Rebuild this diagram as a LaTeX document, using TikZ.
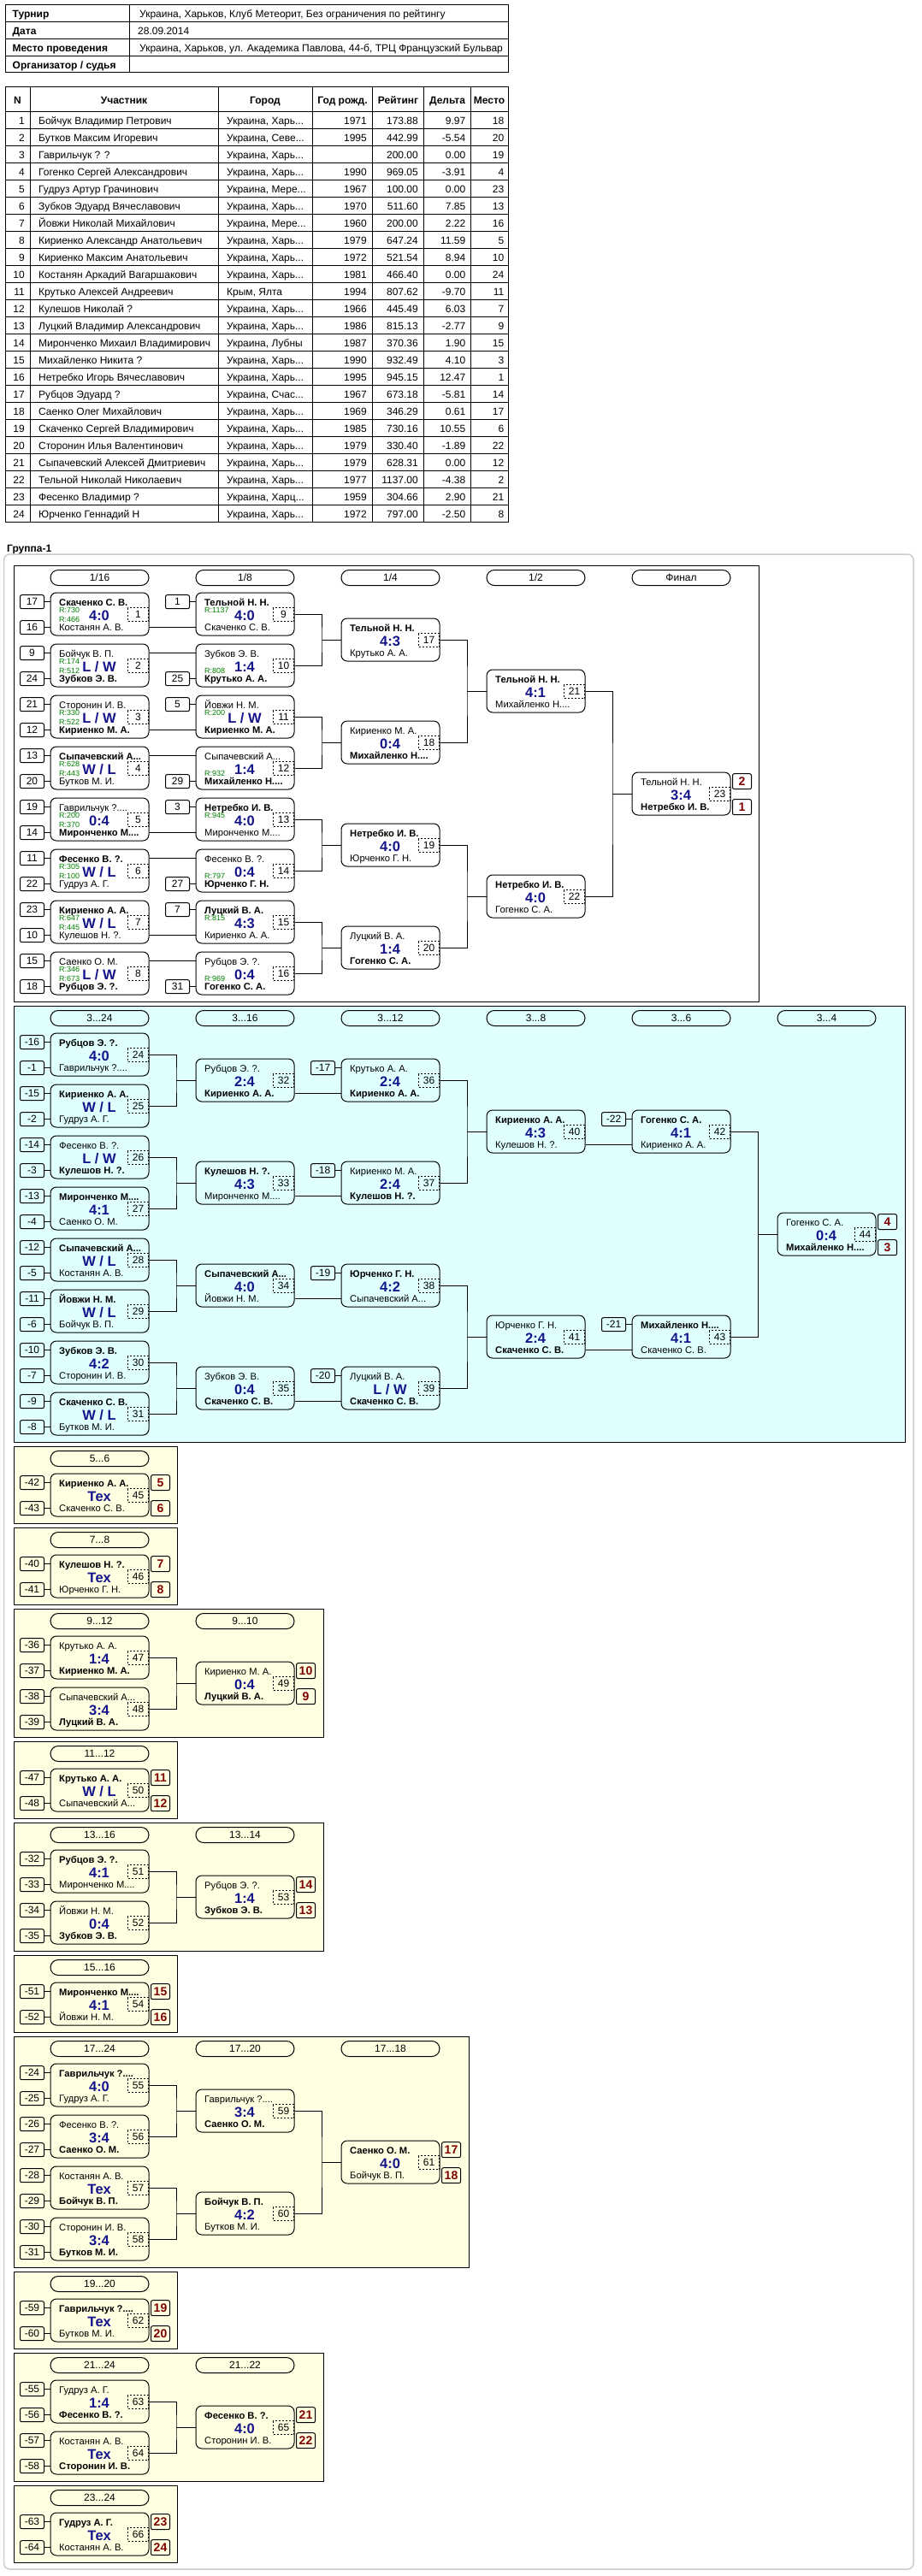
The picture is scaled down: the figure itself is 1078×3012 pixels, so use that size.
\documentclass[tikz,border=0pt]{standalone}
\usepackage{fontspec}
\setmainfont{Liberation Sans}
\definecolor{scoreblue}{RGB}{20,20,140}
\definecolor{ratgreen}{RGB}{0,128,0}
\definecolor{placered}{RGB}{128,0,0}
\definecolor{cyanbg}{RGB}{224,255,255}
\definecolor{yellowbg}{RGB}{255,255,225}
\definecolor{panelgray}{RGB}{205,205,205}
\newcommand\fzn{\fontsize{11.2}{12}\selectfont}
\newcommand\fzs{\fontsize{16.5}{17}\selectfont\bfseries}
\newcommand\fzr{\fontsize{9}{9}\selectfont}
\newcommand\fzk{\fontsize{12}{12}\selectfont}
\newcommand\fzp{\fontsize{14}{14}\selectfont\bfseries}
\newcommand\fzt{\fontsize{12}{12}\selectfont}
\tikzset{
  conn/.style={line width=1pt},
  mbox/.style={draw, line width=1pt, rounded corners=7pt, minimum width=115pt, minimum height=50pt, inner sep=0pt},
  pill/.style={draw, line width=1pt, rounded corners=9pt, minimum width=115pt, minimum height=18pt, inner sep=0pt, font=\fzt},
  seedbox/.style={draw, line width=1pt, rounded corners=2pt, minimum width=28pt, minimum height=16pt, inner sep=0pt, font=\fzk},
  numbox/.style={draw, dashed, dash pattern=on 2pt off 2pt, line width=0.9pt, minimum width=24pt, minimum height=16pt, inner sep=0pt, font=\fzk},
  placebox/.style={draw, line width=1pt, rounded corners=2pt, minimum width=22pt, minimum height=18pt, inner sep=0pt, font=\fzp, text=placered},
  nm/.style={anchor=base west, inner sep=0pt, font=\fzn},
  nmb/.style={anchor=base west, inner sep=0pt, font=\fzn\bfseries},
  sc/.style={anchor=base, inner sep=0pt, font=\fzs, text=scoreblue},
  rt/.style={anchor=base west, inner sep=0pt, font=\fzr, text=ratgreen},
  tl/.style={anchor=base west, inner sep=0pt, font=\fzt},
  tr/.style={anchor=base east, inner sep=0pt, font=\fzt},
  th/.style={anchor=base, inner sep=0pt, font=\fzt\bfseries},
  tb/.style={anchor=base west, inner sep=0pt, font=\fzt\bfseries},
  sect/.style={draw, line width=1pt},
}
\newcommand\mymatch[8]{%
  \node[mbox] (m#1) at ({#2+57.5},{#3+25}) {};
  \coordinate (m#1T) at (#2,{#3+10.7});
  \coordinate (m#1B) at (#2,{#3+40.7});
  \node[#4] (m#1t) at ({#2+10},{#3+15}) {#5};
  \node[sc] (m#1s) at ({#2+57},{#3+32.6}) {#6};
  \node[#7] (m#1b) at ({#2+10},{#3+44.5}) {#8};
  \node[numbox] (m#1n) at ({#2+102.5},{#3+25.7}) {#1};
}
\newcommand\myseed[3]{%
  \node[seedbox, anchor=east] (s#1#2) at ([xshift=-7pt]m#1#2) {#3};
  \draw[conn] (s#1#2.east) -- (m#1#2);
}
\newcommand\myplace[3]{%
  \node[placebox, anchor=west] (p#1#2) at ([xshift=117pt]m#1#2) {#3};
}
\newcommand\rtop[2]{\node[rt] (r#1T) at ([xshift=10pt,yshift=-12.3pt]m#1T) {#2};}
\newcommand\rbot[2]{\node[rt] (r#1B) at ([xshift=10pt,yshift=6.5pt]m#1B) {#2};}
\newcommand\myjoin[3]{%
  \draw[conn] (m#1.east) -| ([xshift=-22.5pt]m#3.west) |- (m#2.east);
  \draw[conn] ([xshift=-22.5pt]m#3.west) -- (m#3.west);
}
\newcommand\myfeed[3]{\draw[conn] (m#1.east |- m#2#3) -- (m#2#3);}
\newcommand\mypill[4]{\node[pill] (#1) at ({#2+57.5},{#3+14.5}) {#4};}
\newcommand\ptrow[7]{%
  \node[tr] (r#1n) at (29,{130+20*#1-5}) {#1};
  \node[tl] (r#1p) at (45,{130+20*#1-5}) {#2};
  \node[tl] (r#1c) at (265,{130+20*#1-5}) {#3};
  \node[tr] (r#1y) at (429,{130+20*#1-5}) {#4};
  \node[tr] (r#1r) at (489,{130+20*#1-5}) {#5};
  \node[tr] (r#1d) at (544.5,{130+20*#1-5}) {#6};
  \node[tr] (r#1m) at (589.5,{130+20*#1-5}) {#7};
}
\begin{document}
\begin{tikzpicture}[x=1pt,y=-1pt]
\useasboundingbox[fill=white] (0,0) rectangle (1078,3012);
% ---------- info table ----------
\draw[line width=1pt] (6,5) rectangle (594,84.5);
\foreach \yy in {25,45,65} \draw[line width=1pt] (6,\yy) -- (594,\yy);
\draw[line width=1pt] (151,5) -- (151,84.5);
\node[tb] (i1) at (14.5,20.7) {Турнир};
\node[tb] (i2) at (14.5,40.7) {Дата};
\node[tb] (i3) at (14.5,60.7) {Место проведения};
\node[tb] (i4) at (14.5,80.5) {Организатор / судья};
\node[tl] (v1) at (163,20.7) {Украина, Харьков, Клуб Метеорит, Без ограничения по рейтингу};
\node[tl] (v2) at (161,40.7) {28.09.2014};
\node[tl] (v3) at (163,60.7) {Украина, Харьков, ул. Академика Павлова, 44-б, ТРЦ Французский Бульвар};
% ---------- participants table ----------
\draw[line width=1pt] (6,101) rectangle (594,610);
\foreach \i in {0,...,23} \draw[line width=1pt] (6,{130+20*\i}) -- (594,{130+20*\i});
\foreach \xx in {35,255,365.5,435.5,495.5,550} \draw[line width=1pt] (\xx,101) -- (\xx,610);
\node[th] (h1) at (20.5,121) {N};
\node[th] (h2) at (145,121) {Участник};
\node[th] (h3) at (310,121) {Город};
\node[th] (h4) at (400.5,121) {Год рожд.};
\node[th] (h5) at (465.5,121) {Рейтинг};
\node[th] (h6) at (523,121) {Дельта};
\node[th] (h7) at (572,121) {Место};
\ptrow{1}{Бойчук Владимир Петрович}{Украина, Харь...}{1971}{173.88}{9.97}{18}
\ptrow{2}{Бутков Максим Игоревич}{Украина, Севе...}{1995}{442.99}{-5.54}{20}
\ptrow{3}{Гаврильчук ? ?}{Украина, Харь...}{}{200.00}{0.00}{19}
\ptrow{4}{Гогенко Сергей Александрович}{Украина, Харь...}{1990}{969.05}{-3.91}{4}
\ptrow{5}{Гудруз Артур Грачинович}{Украина, Мере...}{1967}{100.00}{0.00}{23}
\ptrow{6}{Зубков Эдуард Вячеславович}{Украина, Харь...}{1970}{511.60}{7.85}{13}
\ptrow{7}{Йовжи Николай Михайлович}{Украина, Мере...}{1960}{200.00}{2.22}{16}
\ptrow{8}{Кириенко Александр Анатольевич}{Украина, Харь...}{1979}{647.24}{11.59}{5}
\ptrow{9}{Кириенко Максим Анатольевич}{Украина, Харь...}{1972}{521.54}{8.94}{10}
\ptrow{10}{Костанян Аркадий Вагаршакович}{Украина, Харь...}{1981}{466.40}{0.00}{24}
\ptrow{11}{Крутько Алексей Андреевич}{Крым, Ялта}{1994}{807.62}{-9.70}{11}
\ptrow{12}{Кулешов Николай ?}{Украина, Харь...}{1966}{445.49}{6.03}{7}
\ptrow{13}{Луцкий Владимир Александрович}{Украина, Харь...}{1986}{815.13}{-2.77}{9}
\ptrow{14}{Миронченко Михаил Владимирович}{Украина, Лубны}{1987}{370.36}{1.90}{15}
\ptrow{15}{Михайленко Никита ?}{Украина, Харь...}{1990}{932.49}{4.10}{3}
\ptrow{16}{Нетребко Игорь Вячеславович}{Украина, Харь...}{1995}{945.15}{12.47}{1}
\ptrow{17}{Рубцов Эдуард ?}{Украина, Счас...}{1967}{673.18}{-5.81}{14}
\ptrow{18}{Саенко Олег Михайлович}{Украина, Харь...}{1969}{346.29}{0.61}{17}
\ptrow{19}{Скаченко Сергей Владимирович}{Украина, Харь...}{1985}{730.16}{10.55}{6}
\ptrow{20}{Сторонин Илья Валентинович}{Украина, Харь...}{1979}{330.40}{-1.89}{22}
\ptrow{21}{Сыпачевский Алексей Дмитриевич}{Украина, Харь...}{1979}{628.31}{0.00}{12}
\ptrow{22}{Тельной Николай Николаевич}{Украина, Харь...}{1977}{1137.00}{-4.38}{2}
\ptrow{23}{Фесенко Владимир ?}{Украина, Харц...}{1959}{304.66}{2.90}{21}
\ptrow{24}{Юрченко Геннадий Н}{Украина, Харь...}{1972}{797.00}{-2.50}{8}
% ---------- group panel ----------
\node[tb] (grp) at (8,645) {Группа-1};
\draw[panelgray, line width=1.5pt, rounded corners=7pt] (4.5,648) rectangle (1068,3004);
% section backgrounds
\draw[sect, fill=white] (16,661) rectangle (887,1171);
\draw[sect, fill=cyanbg] (16,1176) rectangle (1058,1686);
\draw[sect, fill=yellowbg] (16,1691) rectangle (207,1781);
\draw[sect, fill=yellowbg] (16,1786) rectangle (207,1876);
\draw[sect, fill=yellowbg] (16,1881) rectangle (378,2031);
\draw[sect, fill=yellowbg] (16,2036) rectangle (207,2126);
\draw[sect, fill=yellowbg] (16,2131) rectangle (378,2281);
\draw[sect, fill=yellowbg] (16,2286) rectangle (207,2376);
\draw[sect, fill=yellowbg] (16,2381) rectangle (548,2651);
\draw[sect, fill=yellowbg] (16,2656) rectangle (207,2746);
\draw[sect, fill=yellowbg] (16,2751) rectangle (378,2901);
\draw[sect, fill=yellowbg] (16,2906) rectangle (207,2996);
% ---------- main bracket ----------
\mypill{pa1}{59}{661}{1/16}
\mypill{pa2}{229}{661}{1/8}
\mypill{pa3}{399}{661}{1/4}
\mypill{pa4}{569}{661}{1/2}
\mypill{pa5}{739}{661}{Финал}
\mymatch{1}{59}{693}{nmb}{Скаченко С. В.}{4:0}{nm}{Костанян А. В.}
\mymatch{2}{59}{753}{nm}{Бойчук В. П.}{L / W}{nmb}{Зубков Э. В.}
\mymatch{3}{59}{813}{nm}{Сторонин И. В.}{L / W}{nmb}{Кириенко М. А.}
\mymatch{4}{59}{873}{nmb}{Сыпачевский А...}{W / L}{nm}{Бутков М. И.}
\mymatch{5}{59}{933}{nm}{Гаврильчук ?....}{0:4}{nmb}{Миронченко М....}
\mymatch{6}{59}{993}{nmb}{Фесенко В. ?.}{W / L}{nm}{Гудруз А. Г.}
\mymatch{7}{59}{1053}{nmb}{Кириенко А. А.}{W / L}{nm}{Кулешов Н. ?.}
\mymatch{8}{59}{1113}{nm}{Саенко О. М.}{L / W}{nmb}{Рубцов Э. ?.}
\rtop{1}{R:730}\rbot{1}{R:466}
\rtop{2}{R:174}\rbot{2}{R:512}
\rtop{3}{R:330}\rbot{3}{R:522}
\rtop{4}{R:628}\rbot{4}{R:443}
\rtop{5}{R:200}\rbot{5}{R:370}
\rtop{6}{R:305}\rbot{6}{R:100}
\rtop{7}{R:647}\rbot{7}{R:445}
\rtop{8}{R:346}\rbot{8}{R:673}
\myseed{1}{T}{17}\myseed{1}{B}{16}
\myseed{2}{T}{9}\myseed{2}{B}{24}
\myseed{3}{T}{21}\myseed{3}{B}{12}
\myseed{4}{T}{13}\myseed{4}{B}{20}
\myseed{5}{T}{19}\myseed{5}{B}{14}
\myseed{6}{T}{11}\myseed{6}{B}{22}
\myseed{7}{T}{23}\myseed{7}{B}{10}
\myseed{8}{T}{15}\myseed{8}{B}{18}
\mymatch{9}{229}{693}{nmb}{Тельной Н. Н.}{4:0}{nm}{Скаченко С. В.}
\mymatch{10}{229}{753}{nm}{Зубков Э. В.}{1:4}{nmb}{Крутько А. А.}
\mymatch{11}{229}{813}{nm}{Йовжи Н. М.}{L / W}{nmb}{Кириенко М. А.}
\mymatch{12}{229}{873}{nm}{Сыпачевский А...}{1:4}{nmb}{Михайленко Н....}
\mymatch{13}{229}{933}{nmb}{Нетребко И. В.}{4:0}{nm}{Миронченко М....}
\mymatch{14}{229}{993}{nm}{Фесенко В. ?.}{0:4}{nmb}{Юрченко Г. Н.}
\mymatch{15}{229}{1053}{nmb}{Луцкий В. А.}{4:3}{nm}{Кириенко А. А.}
\mymatch{16}{229}{1113}{nm}{Рубцов Э. ?.}{0:4}{nmb}{Гогенко С. А.}
\rtop{9}{R:1137}\rbot{10}{R:808}\rtop{11}{R:200}\rbot{12}{R:932}
\rtop{13}{R:945}\rbot{14}{R:797}\rtop{15}{R:815}\rbot{16}{R:969}
\myseed{9}{T}{1}\myseed{10}{B}{25}\myseed{11}{T}{5}\myseed{12}{B}{29}
\myseed{13}{T}{3}\myseed{14}{B}{27}\myseed{15}{T}{7}\myseed{16}{B}{31}
\myfeed{1}{9}{B}\myfeed{2}{10}{T}\myfeed{3}{11}{B}\myfeed{4}{12}{T}
\myfeed{5}{13}{B}\myfeed{6}{14}{T}\myfeed{7}{15}{B}\myfeed{8}{16}{T}
\mymatch{17}{399}{723}{nmb}{Тельной Н. Н.}{4:3}{nm}{Крутько А. А.}
\mymatch{18}{399}{843}{nm}{Кириенко М. А.}{0:4}{nmb}{Михайленко Н....}
\mymatch{19}{399}{963}{nmb}{Нетребко И. В.}{4:0}{nm}{Юрченко Г. Н.}
\mymatch{20}{399}{1083}{nm}{Луцкий В. А.}{1:4}{nmb}{Гогенко С. А.}
\myjoin{9}{10}{17}\myjoin{11}{12}{18}\myjoin{13}{14}{19}\myjoin{15}{16}{20}
\mymatch{21}{569}{783}{nmb}{Тельной Н. Н.}{4:1}{nm}{Михайленко Н....}
\mymatch{22}{569}{1023}{nmb}{Нетребко И. В.}{4:0}{nm}{Гогенко С. А.}
\myjoin{17}{18}{21}\myjoin{19}{20}{22}
\mymatch{23}{739}{903}{nm}{Тельной Н. Н.}{3:4}{nmb}{Нетребко И. В.}
\myjoin{21}{22}{23}
\myplace{23}{T}{2}\myplace{23}{B}{1}
% ---------- 3..24 bracket ----------
\mypill{pb1}{59}{1176}{3...24}
\mypill{pb2}{229}{1176}{3...16}
\mypill{pb3}{399}{1176}{3...12}
\mypill{pb4}{569}{1176}{3...8}
\mypill{pb5}{739}{1176}{3...6}
\mypill{pb6}{909}{1176}{3...4}
\mymatch{24}{59}{1208}{nmb}{Рубцов Э. ?.}{4:0}{nm}{Гаврильчук ?....}
\mymatch{25}{59}{1268}{nmb}{Кириенко А. А.}{W / L}{nm}{Гудруз А. Г.}
\mymatch{26}{59}{1328}{nm}{Фесенко В. ?.}{L / W}{nmb}{Кулешов Н. ?.}
\mymatch{27}{59}{1388}{nmb}{Миронченко М....}{4:1}{nm}{Саенко О. М.}
\mymatch{28}{59}{1448}{nmb}{Сыпачевский А...}{W / L}{nm}{Костанян А. В.}
\mymatch{29}{59}{1508}{nmb}{Йовжи Н. М.}{W / L}{nm}{Бойчук В. П.}
\mymatch{30}{59}{1568}{nmb}{Зубков Э. В.}{4:2}{nm}{Сторонин И. В.}
\mymatch{31}{59}{1628}{nmb}{Скаченко С. В.}{W / L}{nm}{Бутков М. И.}
\myseed{24}{T}{-16}\myseed{24}{B}{-1}
\myseed{25}{T}{-15}\myseed{25}{B}{-2}
\myseed{26}{T}{-14}\myseed{26}{B}{-3}
\myseed{27}{T}{-13}\myseed{27}{B}{-4}
\myseed{28}{T}{-12}\myseed{28}{B}{-5}
\myseed{29}{T}{-11}\myseed{29}{B}{-6}
\myseed{30}{T}{-10}\myseed{30}{B}{-7}
\myseed{31}{T}{-9}\myseed{31}{B}{-8}
\mymatch{32}{229}{1238}{nm}{Рубцов Э. ?.}{2:4}{nmb}{Кириенко А. А.}
\mymatch{33}{229}{1358}{nmb}{Кулешов Н. ?.}{4:3}{nm}{Миронченко М....}
\mymatch{34}{229}{1478}{nmb}{Сыпачевский А...}{4:0}{nm}{Йовжи Н. М.}
\mymatch{35}{229}{1598}{nm}{Зубков Э. В.}{0:4}{nmb}{Скаченко С. В.}
\myjoin{24}{25}{32}\myjoin{26}{27}{33}\myjoin{28}{29}{34}\myjoin{30}{31}{35}
\mymatch{36}{399}{1238}{nm}{Крутько А. А.}{2:4}{nmb}{Кириенко А. А.}
\mymatch{37}{399}{1358}{nm}{Кириенко М. А.}{2:4}{nmb}{Кулешов Н. ?.}
\mymatch{38}{399}{1478}{nmb}{Юрченко Г. Н.}{4:2}{nm}{Сыпачевский А...}
\mymatch{39}{399}{1598}{nm}{Луцкий В. А.}{L / W}{nmb}{Скаченко С. В.}
\myseed{36}{T}{-17}\myseed{37}{T}{-18}\myseed{38}{T}{-19}\myseed{39}{T}{-20}
\myfeed{32}{36}{B}\myfeed{33}{37}{B}\myfeed{34}{38}{B}\myfeed{35}{39}{B}
\mymatch{40}{569}{1298}{nmb}{Кириенко А. А.}{4:3}{nm}{Кулешов Н. ?.}
\mymatch{41}{569}{1538}{nm}{Юрченко Г. Н.}{2:4}{nmb}{Скаченко С. В.}
\myjoin{36}{37}{40}\myjoin{38}{39}{41}
\mymatch{42}{739}{1298}{nmb}{Гогенко С. А.}{4:1}{nm}{Кириенко А. А.}
\mymatch{43}{739}{1538}{nmb}{Михайленко Н....}{4:1}{nm}{Скаченко С. В.}
\myseed{42}{T}{-22}\myseed{43}{T}{-21}
\myfeed{40}{42}{B}\myfeed{41}{43}{B}
\mymatch{44}{909}{1418}{nm}{Гогенко С. А.}{0:4}{nmb}{Михайленко Н....}
\myjoin{42}{43}{44}
\myplace{44}{T}{4}\myplace{44}{B}{3}
% ---------- 5..6 ----------
\mypill{pc1}{59}{1691}{5...6}
\mymatch{45}{59}{1723}{nmb}{Кириенко А. А.}{Тех}{nm}{Скаченко С. В.}
\myseed{45}{T}{-42}\myseed{45}{B}{-43}
\myplace{45}{T}{5}\myplace{45}{B}{6}
% ---------- 7..8 ----------
\mypill{pd1}{59}{1786}{7...8}
\mymatch{46}{59}{1818}{nmb}{Кулешов Н. ?.}{Тех}{nm}{Юрченко Г. Н.}
\myseed{46}{T}{-40}\myseed{46}{B}{-41}
\myplace{46}{T}{7}\myplace{46}{B}{8}
% ---------- 9..12 ----------
\mypill{pe1}{59}{1881}{9...12}
\mypill{pe2}{229}{1881}{9...10}
\mymatch{47}{59}{1913}{nm}{Крутько А. А.}{1:4}{nmb}{Кириенко М. А.}
\mymatch{48}{59}{1973}{nm}{Сыпачевский А...}{3:4}{nmb}{Луцкий В. А.}
\myseed{47}{T}{-36}\myseed{47}{B}{-37}
\myseed{48}{T}{-38}\myseed{48}{B}{-39}
\mymatch{49}{229}{1943}{nm}{Кириенко М. А.}{0:4}{nmb}{Луцкий В. А.}
\myjoin{47}{48}{49}
\myplace{49}{T}{10}\myplace{49}{B}{9}
% ---------- 11..12 ----------
\mypill{pf1}{59}{2036}{11...12}
\mymatch{50}{59}{2068}{nmb}{Крутько А. А.}{W / L}{nm}{Сыпачевский А...}
\myseed{50}{T}{-47}\myseed{50}{B}{-48}
\myplace{50}{T}{11}\myplace{50}{B}{12}
% ---------- 13..16 ----------
\mypill{pg1}{59}{2131}{13...16}
\mypill{pg2}{229}{2131}{13...14}
\mymatch{51}{59}{2163}{nmb}{Рубцов Э. ?.}{4:1}{nm}{Миронченко М....}
\mymatch{52}{59}{2223}{nm}{Йовжи Н. М.}{0:4}{nmb}{Зубков Э. В.}
\myseed{51}{T}{-32}\myseed{51}{B}{-33}
\myseed{52}{T}{-34}\myseed{52}{B}{-35}
\mymatch{53}{229}{2193}{nm}{Рубцов Э. ?.}{1:4}{nmb}{Зубков Э. В.}
\myjoin{51}{52}{53}
\myplace{53}{T}{14}\myplace{53}{B}{13}
% ---------- 15..16 ----------
\mypill{ph1}{59}{2286}{15...16}
\mymatch{54}{59}{2318}{nmb}{Миронченко М....}{4:1}{nm}{Йовжи Н. М.}
\myseed{54}{T}{-51}\myseed{54}{B}{-52}
\myplace{54}{T}{15}\myplace{54}{B}{16}
% ---------- 17..24 ----------
\mypill{pi1}{59}{2381}{17...24}
\mypill{pi2}{229}{2381}{17...20}
\mypill{pi3}{399}{2381}{17...18}
\mymatch{55}{59}{2413}{nmb}{Гаврильчук ?....}{4:0}{nm}{Гудруз А. Г.}
\mymatch{56}{59}{2473}{nm}{Фесенко В. ?.}{3:4}{nmb}{Саенко О. М.}
\mymatch{57}{59}{2533}{nm}{Костанян А. В.}{Тех}{nmb}{Бойчук В. П.}
\mymatch{58}{59}{2593}{nm}{Сторонин И. В.}{3:4}{nmb}{Бутков М. И.}
\myseed{55}{T}{-24}\myseed{55}{B}{-25}
\myseed{56}{T}{-26}\myseed{56}{B}{-27}
\myseed{57}{T}{-28}\myseed{57}{B}{-29}
\myseed{58}{T}{-30}\myseed{58}{B}{-31}
\mymatch{59}{229}{2443}{nm}{Гаврильчук ?....}{3:4}{nmb}{Саенко О. М.}
\mymatch{60}{229}{2563}{nmb}{Бойчук В. П.}{4:2}{nm}{Бутков М. И.}
\myjoin{55}{56}{59}\myjoin{57}{58}{60}
\mymatch{61}{399}{2503}{nmb}{Саенко О. М.}{4:0}{nm}{Бойчук В. П.}
\myjoin{59}{60}{61}
\myplace{61}{T}{17}\myplace{61}{B}{18}
% ---------- 19..20 ----------
\mypill{pj1}{59}{2656}{19...20}
\mymatch{62}{59}{2688}{nmb}{Гаврильчук ?....}{Тех}{nm}{Бутков М. И.}
\myseed{62}{T}{-59}\myseed{62}{B}{-60}
\myplace{62}{T}{19}\myplace{62}{B}{20}
% ---------- 21..24 ----------
\mypill{pk1}{59}{2751}{21...24}
\mypill{pk2}{229}{2751}{21...22}
\mymatch{63}{59}{2783}{nm}{Гудруз А. Г.}{1:4}{nmb}{Фесенко В. ?.}
\mymatch{64}{59}{2843}{nm}{Костанян А. В.}{Тех}{nmb}{Сторонин И. В.}
\myseed{63}{T}{-55}\myseed{63}{B}{-56}
\myseed{64}{T}{-57}\myseed{64}{B}{-58}
\mymatch{65}{229}{2813}{nmb}{Фесенко В. ?.}{4:0}{nm}{Сторонин И. В.}
\myjoin{63}{64}{65}
\myplace{65}{T}{21}\myplace{65}{B}{22}
% ---------- 23..24 ----------
\mypill{pl1}{59}{2906}{23...24}
\mymatch{66}{59}{2938}{nmb}{Гудруз А. Г.}{Тех}{nm}{Костанян А. В.}
\myseed{66}{T}{-63}\myseed{66}{B}{-64}
\myplace{66}{T}{23}\myplace{66}{B}{24}
\end{tikzpicture}
\end{document}
